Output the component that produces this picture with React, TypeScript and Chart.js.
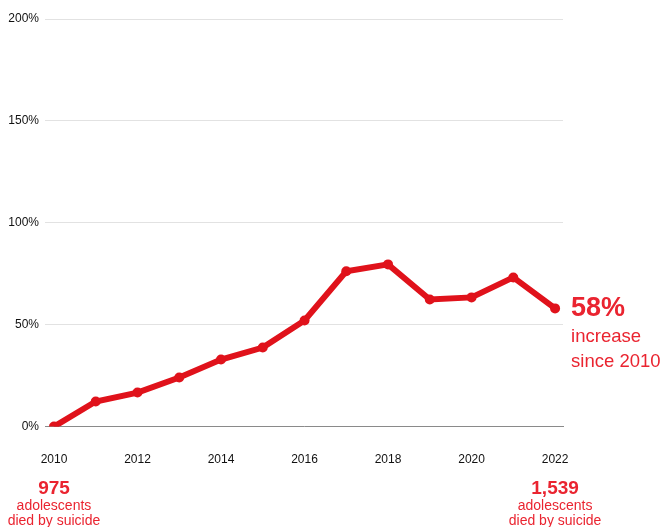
import React, { useEffect, useRef } from "react";
import { Chart, registerables } from "chart.js";

Chart.register(...registerables);

const years = [2010, 2011, 2012, 2013, 2014, 2015, 2016, 2017, 2018, 2019, 2020, 2021, 2022];
const increasePct = [0, 12.3, 16.7, 24.1, 32.9, 38.8, 52.1, 76.2, 79.6, 62.4, 63.4, 73.2, 58.0];
const xTickYears = [2010, 2012, 2014, 2016, 2018, 2020, 2022];
const startNote = ["975", "adolescents", "died by suicide"];
const endNote = ["1,539", "adolescents", "died by suicide"];
const changeNote = ["58%", "increase", "since 2010"];

const LINE = "#e0121b";
const TEXT_RED = "#ea2430";
const FONT = "'Liberation Sans', Arial, Helvetica, sans-serif";

const annotationPlugin = {
  id: "annotations",
  afterDraw(chart: any) {
    const ctx = chart.ctx;
    const xs = chart.scales.x;
    const ys = chart.scales.y;
    const lastX = xs.getPixelForValue(years[years.length - 1]);
    const lastY = ys.getPixelForValue(increasePct[increasePct.length - 1]);
    const firstX = xs.getPixelForValue(years[0]);
    ctx.save();
    ctx.fillStyle = TEXT_RED;
    ctx.textBaseline = "middle";
    // right note
    ctx.textAlign = "left";
    ctx.font = `bold 27px ${FONT}`;
    ctx.fillText(changeNote[0], lastX + 16, lastY);
    ctx.font = `18.5px ${FONT}`;
    ctx.fillText(changeNote[1], lastX + 16, lastY + 29);
    ctx.fillText(changeNote[2], lastX + 16, lastY + 54);
    // bottom notes
    ctx.textAlign = "center";
    const drawNote = (lines: string[], cx: number) => {
      ctx.font = `bold 19px ${FONT}`;
      ctx.fillText(lines[0], cx, 489);
      ctx.font = `14px ${FONT}`;
      ctx.fillText(lines[1], cx, 506);
      ctx.fillText(lines[2], cx, 521);
    };
    drawNote(startNote, firstX);
    drawNote(endNote, lastX);
    ctx.restore();
  },
};

export default function App() {
  const ref = useRef<HTMLCanvasElement>(null);
  useEffect(() => {
    document.body.style.margin = "0";
    const chart = new Chart(ref.current!, {
      type: "line",
      data: {
        datasets: [
          {
            data: years.map((y, i) => ({ x: y, y: increasePct[i] })),
            borderColor: LINE,
            backgroundColor: LINE,
            borderWidth: 6,
            pointRadius: 5,
            pointBackgroundColor: LINE,
            pointBorderWidth: 0,
            tension: 0,
          },
        ],
      },
      options: {
        animation: false,
        responsive: false,
        maintainAspectRatio: false,
        layout: { padding: { top: 19, right: 100, bottom: 34, left: 0 } },
        plugins: { legend: { display: false }, tooltip: { enabled: false } },
        scales: {
          x: {
            type: "linear",
            min: 2009.785,
            max: 2022.19,
            afterBuildTicks: (s: any) => {
              s.ticks = xTickYears.map((v) => ({ value: v }));
            },
            grid: { display: false, drawTicks: false },
            border: { display: true, color: "#8a8a8a", width: 1 },
            ticks: {
              padding: 26,
              color: "#111",
              font: { family: FONT, size: 12 },
              callback: (v: any) => String(v),
              maxRotation: 0,
              autoSkip: false,
            },
          },
          y: {
            min: 0,
            max: 200,
            afterFit: (s: any) => {
              s.width = 45;
            },
            ticks: {
              stepSize: 50,
              padding: 6,
              color: "#111",
              font: { family: FONT, size: 12 },
              callback: (v: any) => v + "%",
            },
            grid: { color: "#e2e2e2", drawTicks: false, lineWidth: 1 },
            border: { display: false },
          },
        },
      },
      plugins: [annotationPlugin],
    });
    return () => chart.destroy();
  }, []);
  return (
    <div style={{ position: "absolute", left: 0, top: 0, width: 663, height: 527 }}>
      <canvas ref={ref} width={663} height={527} />
    </div>
  );
}
